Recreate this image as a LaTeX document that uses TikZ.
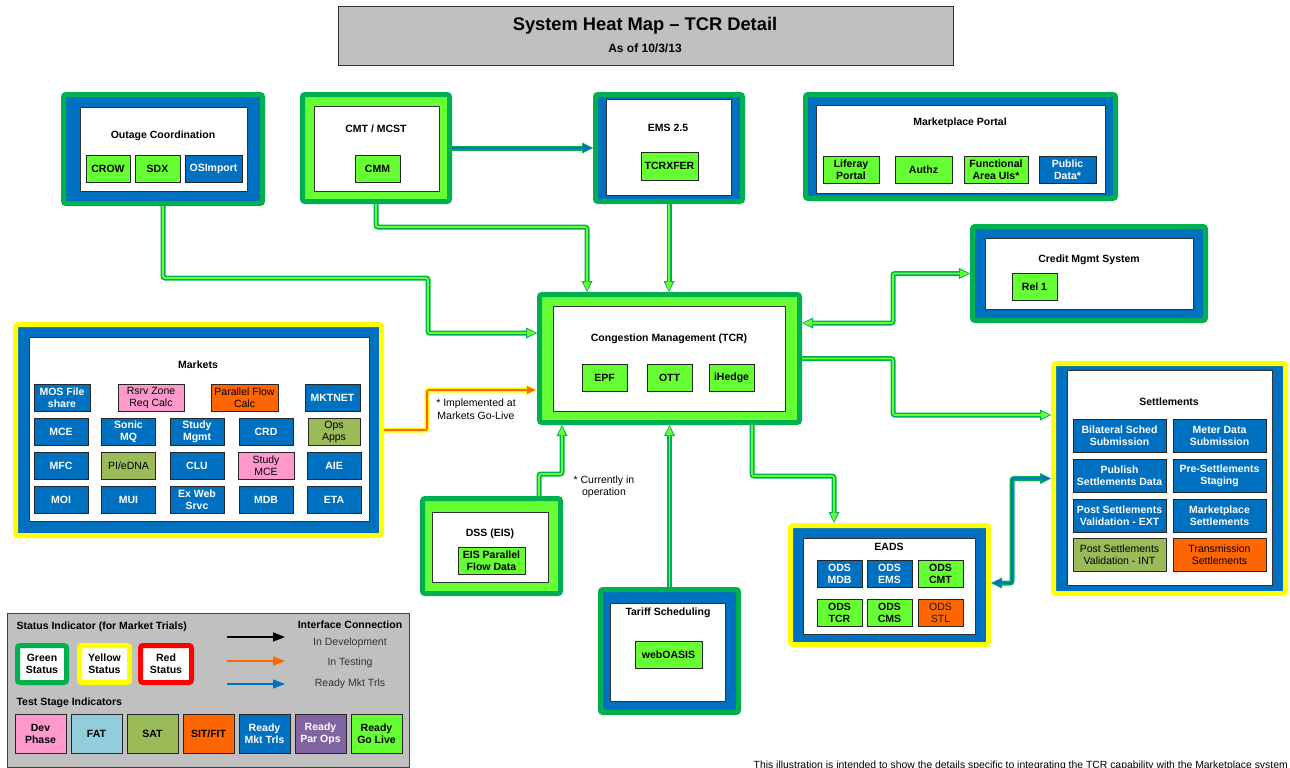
\documentclass[tikz,border=0pt]{standalone}
\usepackage{fontspec}
\setmainfont{Liberation Sans}
\usetikzlibrary{arrows.meta}

\definecolor{sgrn}{HTML}{00B050}
\definecolor{lgrn}{HTML}{66FF33}
\definecolor{mblu}{HTML}{0070C0}
\definecolor{ylw}{HTML}{FFFF00}
\definecolor{rd}{HTML}{FF0000}
\definecolor{pnk}{HTML}{FF99CC}
\definecolor{olv}{HTML}{9BBB59}
\definecolor{orng}{HTML}{FF6600}
\definecolor{fatb}{HTML}{92CDDC}
\definecolor{purp}{HTML}{8064A2}
\definecolor{lgry}{HTML}{C0C0C0}

\begin{document}
\begin{tikzpicture}[x=1pt,y=-1pt,
  font=\fontsize{10.5}{12}\selectfont\bfseries,
  sys/.style 2 args={draw=#1, fill=#2, line width=5pt, rounded corners=2.5pt, inner sep=0pt},
  wbox/.style={draw=black!80, fill=white, line width=1pt},
  itm/.style={draw=black!85, line width=0.7pt, inner sep=0pt, align=center, minimum height=27},
  gi/.style={itm, fill=lgrn},
  bi/.style={itm, fill=mblu, text=white},
  pk/.style={itm, fill=pnk, font=\fontsize{10.5}{12}\selectfont},
  ov/.style={itm, fill=olv, font=\fontsize{10.5}{12}\selectfont},
  og/.style={itm, fill=orng, font=\fontsize{10.5}{12}\selectfont},
  note/.style={align=center, font=\fontsize{10.5}{12.5}\selectfont},
  stat/.style={draw=#1, fill=white, line width=5pt, rounded corners=2.5pt, inner sep=0pt, align=center},
  lnk/.style 2 args={draw=#1, line width=5pt, rounded corners=2pt,
    -{Triangle[length=11pt,width=11pt,line width=0pt]},
    postaction={draw=#2, line width=1.8pt, -{Triangle[length=8.5pt,width=7.5pt,line width=0pt]}, shorten >=1.5pt}},
  lnkb/.style 2 args={draw=#1, line width=5pt, rounded corners=2pt,
    {Triangle[length=11pt,width=11pt,line width=0pt]}-{Triangle[length=11pt,width=11pt,line width=0pt]},
    postaction={draw=#2, line width=1.8pt,
      {Triangle[length=8.5pt,width=7.5pt,line width=0pt]}-{Triangle[length=8.5pt,width=7.5pt,line width=0pt]},
      shorten >=1.5pt, shorten <=1.5pt}},
  tipa/.style={line width=1.5pt, -{Triangle[length=12pt,width=9pt]}}]

\useasboundingbox (0,0) rectangle (1290,768);

% ---------------- banner
\node[draw=black!80, fill=lgry, line width=1pt, minimum width=615, minimum height=59, inner sep=0pt] (head) at (645.5,36.5) {};
\node[font=\fontsize{18.3}{20}\selectfont\bfseries] (head-t) at (645,26) {System Heat Map – TCR Detail};
\node[font=\fontsize{12}{14}\selectfont\bfseries] (head-d) at (645,48) {As of 10/3/13};

% ---------------- Outage Coordination
\node[sys={sgrn}{mblu}, minimum width=199, minimum height=109] (outage) at (163,149) {};
\draw[wbox] (80,107) rectangle (247,191);
\node (outage-t) at (163,136) {Outage Coordination};
\node[gi, minimum width=44] (crow) at (108,169) {CROW};
\node[gi, minimum width=45] (sdx) at (157.5,169) {SDX};
\node[bi, minimum width=57] (osimp) at (213.5,169) {OSImport};

% ---------------- CMT / MCST
\node[sys={sgrn}{lgrn}, minimum width=147, minimum height=107] (cmt) at (376,148) {};
\draw[wbox] (314,106) rectangle (439,191);
\node (cmt-t) at (376,129) {CMT / MCST};
\node[gi, minimum width=45] (cmm) at (377.5,168.5) {CMM};

% ---------------- EMS 2.5
\node[sys={sgrn}{mblu}, minimum width=147, minimum height=107] (ems) at (669,148) {};
\draw[wbox] (606,99) rectangle (731,195);
\node (ems-t) at (668,128) {EMS 2.5};
\node[gi, minimum width=57, minimum height=28] (tcrxfer) at (669.5,166) {TCRXFER};

% ---------------- Marketplace Portal
\node[sys={sgrn}{mblu}, minimum width=310, minimum height=104] (portal) at (960.5,146.5) {};
\draw[wbox] (816,105) rectangle (1105,193);
\node (portal-t) at (960,123) {Marketplace Portal};
\node[gi, minimum width=56] (liferay) at (851,169.5) {Liferay\\Portal};
\node[gi, minimum width=57] (authz) at (923.5,169.5) {Authz};
\node[gi, minimum width=64] (faui) at (996,169.5) {Functional\\Area UIs*};
\node[bi, minimum width=57] (pubdata) at (1067.5,169.5) {Public\\Data*};

% ---------------- Credit Mgmt System
\node[sys={sgrn}{mblu}, minimum width=233, minimum height=94] (credit) at (1089,273.5) {};
\draw[wbox] (985,238) rectangle (1193,309);
\node (credit-t) at (1089,260) {Credit Mgmt System};
\node[gi, minimum width=45] (rel1) at (1034.5,286.5) {Rel 1};

% ---------------- Congestion Management (TCR)
\node[sys={sgrn}{lgrn}, minimum width=260, minimum height=128] (tcr) at (669.5,358.5) {};
\draw[wbox] (553,306) rectangle (785,411);
\node (tcr-t) at (669,339) {Congestion Management (TCR)};
\node[gi, minimum width=45] (epf) at (604.5,377.5) {EPF};
\node[gi, minimum width=45] (ott) at (669.5,377.5) {OTT};
\node[gi, minimum width=45] (ihedge) at (731.5,377.5) {iHedge};

% ---------------- Markets
\node[sys={ylw}{mblu}, minimum width=366, minimum height=211] (markets) at (198.5,430) {};
\draw[wbox] (29,337) rectangle (369,521);
\node (markets-t) at (198,365) {Markets};
\node[bi, minimum width=56] (mk-mos) at (62,397.5) {MOS File\\share};
\node[pk, minimum width=66] (mk-rsrv) at (151,397.5) {Rsrv Zone\\Req Calc};
\node[og, minimum width=67] (mk-pfc) at (244.5,397.5) {Parallel Flow\\Calc};
\node[bi, minimum width=55] (mk-net) at (332.5,397.5) {MKTNET};
\foreach \n/\x/\y/\t in {mce/61/431.5/MCE, smq/128.5/431.5/{Sonic\\MQ}, smg/197/431.5/{Study\\Mgmt},
    crd/266/431.5/CRD, mfc/61/465.5/MFC, clu/197/465.5/CLU, aie/334/465.5/AIE,
    moi/61/499.5/MOI, mui/128.5/499.5/MUI, exw/197/499.5/{Ex Web\\Srvc}, mdb/266/499.5/MDB, eta/334/499.5/ETA}
  {\node[bi, minimum width=54] (mk-\n) at (\x,\y) {\t};}
\node[ov, minimum width=52] (mk-ops) at (334,431.5) {Ops\\Apps};
\node[ov, minimum width=54] (mk-pi) at (128.5,465.5) {PI/eDNA};
\node[pk, minimum width=56] (mk-smce) at (266,465.5) {Study\\MCE};

% ---------------- DSS (EIS)
\node[sys={sgrn}{lgrn}, minimum width=138, minimum height=95] (dss) at (491.5,546) {};
\draw[wbox] (432,512) rectangle (548,582);
\node (dss-t) at (490,534) {DSS (EIS)};
\node[gi, minimum width=67] (eispf) at (491.5,560.5) {EIS Parallel\\Flow Data};

% ---------------- Tariff Scheduling
\node[sys={sgrn}{mblu}, minimum width=138, minimum height=123] (tariff) at (669.5,651) {};
\draw[wbox] (610,603) rectangle (725,701);
\node (tariff-t) at (668,613) {Tariff Scheduling};
\node[gi, minimum width=67] (weboasis) at (668.5,654.5) {webOASIS};

% ---------------- EADS
\node[sys={ylw}{mblu}, minimum width=198, minimum height=119] (eads) at (889.5,585) {};
\draw[wbox] (803,538) rectangle (975,634);
\node (eads-t) at (889,547) {EADS};
\node[bi, minimum width=45] (ods-mdb) at (839.5,573.5) {ODS\\MDB};
\node[bi, minimum width=45] (ods-ems) at (889.5,573.5) {ODS\\EMS};
\node[gi, minimum width=45] (ods-cmt) at (940.5,573.5) {ODS\\CMT};
\node[gi, minimum width=45] (ods-tcr) at (839.5,612.5) {ODS\\TCR};
\node[gi, minimum width=45] (ods-cms) at (889.5,612.5) {ODS\\CMS};
\node[og, minimum width=45, text=black!90] (ods-stl) at (940.5,612.5) {ODS\\STL};

% ---------------- Settlements
\node[sys={ylw}{mblu}, minimum width=232, minimum height=230] (settl) at (1169.5,478.5) {};
\draw[wbox] (1067,370) rectangle (1272,585);
\node (settl-t) at (1169,402) {Settlements};
\node[bi, minimum width=93, minimum height=33] (se-bil) at (1119.5,435.5) {Bilateral Sched\\Submission};
\node[bi, minimum width=93, minimum height=33] (se-mtr) at (1219.5,435.5) {Meter Data\\Submission};
\node[bi, minimum width=93, minimum height=33] (se-pub) at (1119.5,475.5) {Publish\\Settlements Data};
\node[bi, minimum width=93, minimum height=33] (se-pre) at (1219.5,475.5) {Pre-Settlements\\Staging};
\node[bi, minimum width=93, minimum height=33] (se-ext) at (1119.5,515.5) {Post Settlements\\Validation - EXT};
\node[bi, minimum width=93, minimum height=33] (se-mkt) at (1219.5,515.5) {Marketplace\\Settlements};
\node[ov, minimum width=93, minimum height=33] (se-int) at (1119.5,555) {Post Settlements\\Validation - INT};
\node[og, minimum width=93, minimum height=33] (se-trn) at (1219.5,555) {Transmission\\Settlements};

% ---------------- interface connections
\coordinate (b1) at (428,278);
\coordinate (b2) at (0,333);
\coordinate (c1) at (587,227);
\coordinate (k1) at (0,323);
\coordinate (k2) at (893,0);
\coordinate (s1) at (0,415);
\coordinate (e1) at (752,0);
\coordinate (e2) at (834,476);
\coordinate (d1) at (539,0);
\coordinate (d2) at (562,474);
\coordinate (f1) at (0,583);
\coordinate (f2) at (1012,0);
\coordinate (m2) at (427,390);

\draw[lnk={sgrn}{lgrn}] (outage.south) |- (b1) |- (b2 -| tcr.west);
\draw[lnk={sgrn}{lgrn}] (cmt.south) |- (c1) -- (c1 |- tcr.north);
\draw[lnk={sgrn}{lgrn}] (ems.south) -- (ems.south |- tcr.north);
\draw[lnk={sgrn}{mblu}] (cmt.east) -- (ems.west);
\draw[lnkb={sgrn}{lgrn}] (k1 -| tcr.east) -| (k2 |- credit.west) -- (credit.west);
\draw[lnk={sgrn}{lgrn}] (tcr.east) -| (k2 |- s1) -- (s1 -| settl.west);
\draw[lnk={sgrn}{lgrn}] (e1 |- tcr.south) |- (e2) -- (e2 |- eads.north);
\draw[lnk={sgrn}{lgrn}] (d1 |- dss.north) |- (d2) -- (d2 |- tcr.south);
\draw[lnk={sgrn}{lgrn}] (tariff.north) -- (tariff.north |- tcr.south);
\draw[lnkb={sgrn}{mblu}] (f1 -| eads.east) -| (f2 |- settl.west) -- (settl.west);
\draw[lnk={ylw}{orng}] (markets.east) -| (m2) -- (m2 -| tcr.west);

\node[note] (impl) at (476,409) {* Implemented at\\Markets Go-Live};
\node[note] (oper) at (604,487) {* Currently in\\operation};

% ---------------- legend
\node[draw=black!75, fill=lgry, line width=1pt, minimum width=402, minimum height=154, inner sep=0pt] (legend) at (208,690) {};
\node[anchor=west] (leg-st) at (13,627) {Status Indicator (for Market Trials)};
\node[stat=sgrn, minimum width=49, minimum height=37] (st-g) at (42,664) {Green\\Status};
\node[stat=ylw, minimum width=50, minimum height=37] (st-y) at (104.5,664) {Yellow\\Status};
\node[stat=rd, minimum width=51, minimum height=37] (st-r) at (166,664) {Red\\Status};

\node (leg-ic) at (350,625) {Interface Connection};
\coordinate (ak0) at (227,637); \coordinate (ak1) at (285,637);
\coordinate (ao0) at (227,661); \coordinate (ao1) at (285,661);
\coordinate (ab0) at (227,684); \coordinate (ab1) at (285,684);
\draw[tipa, black] (ak0) -- (ak1);
\draw[tipa, orng] (ao0) -- (ao1);
\draw[tipa, mblu] (ab0) -- (ab1);
\node[note, text=black!80] (lg-dev) at (350,643) {In Development};
\node[note, text=black!80] (lg-tst) at (350,663) {In Testing};
\node[note, text=black!80] (lg-rdy) at (350,684) {Ready Mkt Trls};

\node[anchor=west] (leg-ts) at (13,703) {Test Stage Indicators};
\foreach \c/\f/\t [count=\i from 0] in {pnk/black/{Dev\\Phase}, fatb/black/FAT, olv/black/SAT,
    orng/black/{SIT/FIT}, mblu/white/{Ready\\Mkt Trls}, purp/white/{Ready\\Par Ops}, lgrn/black/{Ready\\Go Live}}
  {\node[itm, fill=\c, text=\f, minimum width=51, minimum height=39] (ts-\i) at ({40.5+56*\i},733.5) {\t};}

% ---------------- footnote
\node[anchor=base east, inner sep=0pt, font=\fontsize{10.4}{11}\selectfont] (foot) at (1288,768)
  {This illustration is intended to show the details specific to integrating the TCR capability with the Marketplace system};

\end{tikzpicture}
\end{document}
